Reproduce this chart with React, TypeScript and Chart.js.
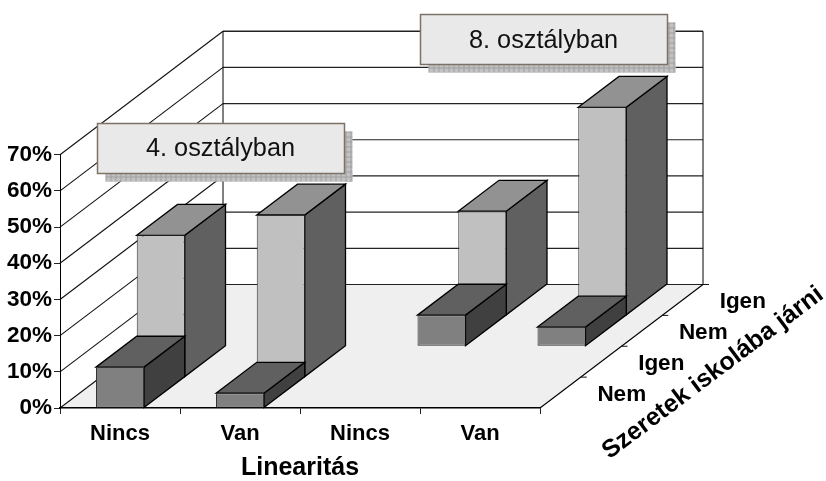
import React, { useEffect, useRef } from "react";
import { Chart, registerables } from "chart.js";

Chart.register(...registerables);

const categories = ["Nincs", "Van", "Nincs", "Van"];
const depthLabels = ["Nem", "Igen", "Nem", "Igen"];
const row1Nem4 = [11.3, 4.1, null, null];
const row2Igen4 = [39.2, 44.8, null, null];
const row3Nem8 = [null, null, 8.6, 5.3];
const row4Igen8 = [null, null, 28.8, 57.5];
const callouts = ["4. osztályban", "8. osztályban"];
const xTitle = "Linearitás";
const depthTitle = "Szeretek iskolába járni";

const FONT = '"Liberation Sans", Arial, sans-serif';
const DX = 163;
const DY = 123.5;
const ROWS = depthLabels.length;
const stepX = DX / ROWS;
const stepY = DY / ROWS;

const faces = [
  { front: "#808080", top: "#606060", side: "#404040" },
  { front: "#c0c0c0", top: "#929292", side: "#606060" },
];

function poly(ctx: CanvasRenderingContext2D, pts: number[][], fill: string, stroke = "#000", w = 1.3) {
  ctx.beginPath();
  pts.forEach((p, i) => (i ? ctx.lineTo(p[0], p[1]) : ctx.moveTo(p[0], p[1])));
  ctx.closePath();
  ctx.fillStyle = fill;
  ctx.fill();
  ctx.lineWidth = w;
  ctx.strokeStyle = stroke;
  ctx.stroke();
}

function line(ctx: CanvasRenderingContext2D, x1: number, y1: number, x2: number, y2: number, color = "#222", w = 1) {
  ctx.beginPath();
  ctx.moveTo(x1, y1);
  ctx.lineTo(x2, y2);
  ctx.strokeStyle = color;
  ctx.lineWidth = w;
  ctx.stroke();
}

function callout(ctx: CanvasRenderingContext2D, text: string, x: number, y: number, w: number, h: number, dy: number) {
  const off = 8;
  ctx.fillStyle = "#c2c2c2";
  ctx.fillRect(x + off, y + h, w, off);
  ctx.fillRect(x + w, y + off, off, h);
  ctx.save();
  ctx.beginPath();
  ctx.rect(x + off, y + h, w, off);
  ctx.rect(x + w, y + off, off, h);
  ctx.clip();
  for (let px = x + off; px <= x + w + off; px += 5) line(ctx, px + 0.5, y, px + 0.5, y + h + off, "#a0a0a0");
  for (let py = y + off; py <= y + h + off; py += 5) line(ctx, x, py + 0.5, x + w + off, py + 0.5, "#a0a0a0");
  ctx.restore();
  ctx.fillStyle = "#e9e9e9";
  ctx.fillRect(x, y, w, h);
  ctx.strokeStyle = "#7d7268";
  ctx.lineWidth = 1.5;
  ctx.strokeRect(x, y, w, h);
  ctx.fillStyle = "#111";
  ctx.font = `25.3px ${FONT}`;
  ctx.textAlign = "center";
  ctx.textBaseline = "middle";
  ctx.fillText(text, x + w / 2 - 0.5, y + h / 2 + dy);
}

const box3d = {
  id: "box3d",
  beforeDraw(chart: any) {
    const { ctx, chartArea: a, scales } = chart;
    const y = scales.y;
    const yBase = y.getPixelForValue(0);
    ctx.save();
    poly(ctx, [[a.left, yBase], [a.right, yBase], [a.right + DX, yBase - DY], [a.left + DX, yBase - DY]], "#efefef", "#efefef", 1);
    y.ticks.forEach((t: any) => {
      const py = y.getPixelForValue(t.value);
      line(ctx, a.left, py, a.left + DX, py - DY, "#111", 1.1);
      line(ctx, a.left + DX, py - DY, a.right + DX, py - DY, "#222", t.value === 70 ? 1.6 : 1.2);
    });
    line(ctx, a.left + DX, y.getPixelForValue(70) - DY, a.left + DX, yBase - DY, "#000");
    line(ctx, a.right + DX, y.getPixelForValue(70) - DY, a.right + DX, yBase - DY, "#000");
    line(ctx, a.right, yBase, a.right + DX, yBase - DY, "#000", 1.1);
    for (let i = 1; i <= ROWS; i++) {
      const ex = a.right + i * stepX;
      const ey = yBase - i * stepY;
      line(ctx, ex, ey, ex + 6, ey, "#111");
    }
    ctx.restore();
  },
  beforeDatasetDraw(chart: any, args: any) {
    const { ctx } = chart;
    const i = args.index;
    const face = faces[i % 2];
    ctx.save();
    ctx.translate(i * stepX, -i * stepY);
    args.meta.data.forEach((el: any, k: number) => {
      if (chart.data.datasets[i].data[k] == null) return;
      const l = el.x - el.width / 2;
      const r = el.x + el.width / 2;
      poly(ctx, [[r, el.y], [r + stepX, el.y - stepY], [r + stepX, el.base - stepY], [r, el.base]], face.side);
      poly(ctx, [[l, el.y], [l + stepX, el.y - stepY], [r + stepX, el.y - stepY], [r, el.y]], face.top);
    });
  },
  afterDatasetDraw(chart: any) {
    chart.ctx.restore();
  },
  afterDatasetsDraw(chart: any) {
    const { ctx, chartArea: a, scales } = chart;
    const yBase = scales.y.getPixelForValue(0);
    ctx.save();
    callout(ctx, callouts[0], 97.5, 123.5, 247, 50, 1);
    callout(ctx, callouts[1], 420.5, 14.5, 247, 50, 2);
    ctx.fillStyle = "#000";
    ctx.font = `bold 22.5px ${FONT}`;
    ctx.textAlign = "left";
    ctx.textBaseline = "middle";
    depthLabels.forEach((t, i) => {
      ctx.fillText(t, a.right + (i + 0.5) * stepX + 37, yBase - (i + 0.5) * stepY + 2);
    });
    ctx.translate(713, 373);
    ctx.rotate((-37 * Math.PI) / 180);
    ctx.font = `bold 25px ${FONT}`;
    ctx.textAlign = "center";
    ctx.fillText(depthTitle, 0, 0);
    ctx.restore();
  },
};

const rows = [row1Nem4, row2Igen4, row3Nem8, row4Igen8];

export default function App() {
  const ref = useRef<HTMLCanvasElement>(null);
  useEffect(() => {
    const chart = new Chart(ref.current as HTMLCanvasElement, {
      type: "bar",
      data: {
        labels: categories,
        datasets: rows.map((data, i) => ({
          label: `${depthLabels[i]} ${i < 2 ? callouts[0] : callouts[1]}`,
          data,
          backgroundColor: faces[i % 2].front,
          borderColor: "#333",
          borderWidth: 1,
          borderSkipped: false,
          clip: false,
        })) as any,
      },
      options: {
        responsive: false,
        animation: false,
        layout: { padding: { top: 154.7, right: 286, left: 0, bottom: 0 } },
        plugins: { legend: { display: false }, tooltip: { enabled: false } },
        datasets: { bar: { grouped: false, barPercentage: 0.4, categoryPercentage: 1 } },
        scales: {
          x: {
            type: "category",
            offset: true,
            afterFit: (s: any) => { s.height = 73; },
            grid: { drawOnChartArea: false, drawTicks: true, tickLength: 6, color: "#222" },
            border: { color: "#000", width: 1.4 },
            ticks: { color: "#000", font: { family: FONT, size: 22, weight: "bold" }, padding: 7, maxRotation: 0, autoSkip: false },
            title: { display: true, text: xTitle, color: "#000", font: { family: FONT, size: 25, weight: "bold", lineHeight: 1 }, padding: { top: 6, bottom: 0 } },
          },
          y: {
            type: "linear",
            min: 0,
            max: 70,
            afterFit: (s: any) => { s.width = 60; },
            grid: { drawOnChartArea: false, drawTicks: true, tickLength: 6, color: "#222" },
            border: { color: "#000", width: 1 },
            ticks: { stepSize: 10, color: "#000", font: { family: FONT, size: 22.5, weight: "bold" }, padding: 2, callback: (v: any) => `${v}%` },
          },
        },
      } as any,
      plugins: [box3d],
    });
    return () => chart.destroy();
  }, []);
  return (
    <div style={{ position: "absolute", left: 0, top: 0, width: 826, height: 481, background: "#fff" }}>
      <canvas ref={ref} width={826} height={481} style={{ display: "block" }} />
    </div>
  );
}
